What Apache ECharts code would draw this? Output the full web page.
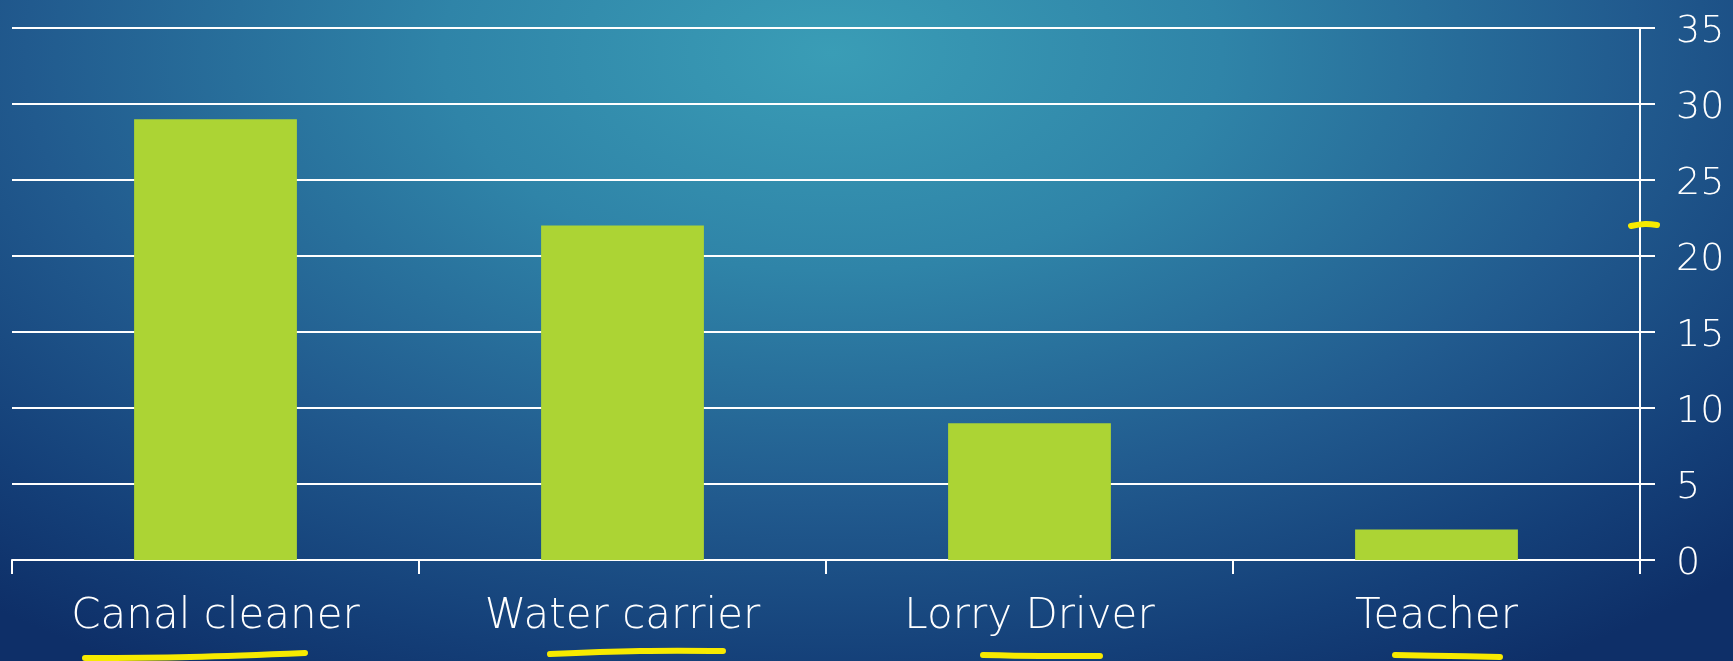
<!DOCTYPE html>
<html>
<head>
<meta charset="utf-8">
<style>
  html, body { margin: 0; padding: 0; }
  body {
    width: 1733px; height: 661px; overflow: hidden;
    background: radial-gradient(ellipse 75% 110% at 48% 8%, #3a9db6 0%, #2f84a8 30%, #215a8e 62%, #143f78 85%, #0e2f68 100%);
  }
  #chart { width: 1733px; height: 661px; }
</style>
<script src="https://cdn.jsdelivr.net/npm/echarts@6/dist/echarts.min.js"></script>
</head>
<body>
<div id="chart"></div>
<script>
// Occupations and their counts
const categories = ['Canal cleaner', 'Water carrier', 'Lorry Driver', 'Teacher'];
const counts = [29, 22, 9, 2];
const yTicks = { min: 0, max: 35, interval: 5 };

const FONT = '"DejaVu Sans", sans-serif';
const WHITE = '#ffffff';
const PEN = '#f7ea00';

const chart = echarts.init(document.getElementById('chart'), null, { renderer: 'canvas' });

// Hand-drawn highlighter strokes under the labels and beside the axis
function penStroke(points) {
  return {
    type: 'polyline',
    shape: { points: points, smooth: 0.4 },
    style: { stroke: PEN, lineWidth: 6, lineCap: 'round', fill: null },
    z: 100
  };
}

chart.setOption({
  backgroundColor: 'transparent',
  animation: false,
  grid: { left: 12, right: 93, top: 28, bottom: 101 },
  xAxis: {
    type: 'category',
    data: categories,
    axisLine: { show: true, lineStyle: { color: WHITE, width: 2 } },
    axisTick: { show: true, alignWithLabel: false, length: 14, lineStyle: { color: WHITE, width: 2 } },
    axisLabel: { color: WHITE, fontFamily: FONT, fontWeight: 200, fontSize: 42, margin: 36 },
    splitLine: { show: false }
  },
  yAxis: {
    type: 'value',
    position: 'right',
    min: yTicks.min, max: yTicks.max, interval: yTicks.interval,
    axisLine: { show: true, lineStyle: { color: WHITE, width: 2 } },
    axisTick: { show: true, length: 15, lineStyle: { color: WHITE, width: 2 } },
    axisLabel: {
      margin: 36,
      formatter: '{v|{value}}',
      rich: {
        v: { color: WHITE, fontFamily: FONT, fontWeight: 200, fontSize: 38, padding: [8, 0, 0, 0] }
      }
    },
    splitLine: { show: true, lineStyle: { color: WHITE, width: 2 } }
  },
  series: [{
    type: 'bar',
    data: counts,
    barWidth: '40%',
    itemStyle: { color: '#acd434' }
  }],
  graphic: [
    penStroke([[85, 658], [190, 657], [305, 653]]),
    penStroke([[550, 654], [640, 651], [723, 651]]),
    penStroke([[983, 655], [1040, 656], [1100, 656]]),
    penStroke([[1395, 655], [1450, 656], [1500, 657]]),
    penStroke([[1631, 226], [1645, 224], [1657, 225]])
  ]
});
</script>
</body>
</html>
